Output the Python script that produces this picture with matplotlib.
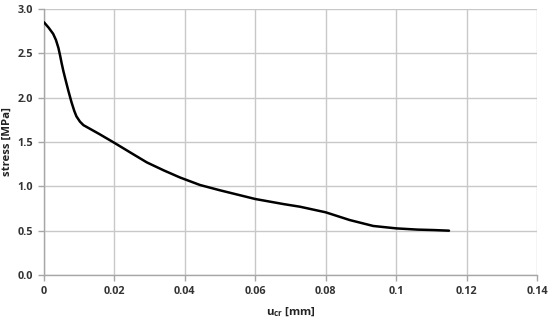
import matplotlib
matplotlib.use("Agg")
import matplotlib.pyplot as plt

u_cr = [0.0, 0.0013, 0.0026, 0.0034, 0.0041, 0.0046, 0.0050, 0.0055, 0.0060, 0.0069, 0.0078, 0.0086,
        0.0092, 0.0097, 0.0102, 0.0112, 0.0130, 0.0157, 0.0200, 0.0250, 0.0292, 0.0340,
        0.0386, 0.0443, 0.0500, 0.0600, 0.0680, 0.0727, 0.0800, 0.0868, 0.0935,
        0.1000, 0.1060, 0.1106, 0.1150]
stress = [2.85, 2.79, 2.72, 2.65, 2.56, 2.47, 2.39, 2.30, 2.22, 2.08, 1.95, 1.85,
          1.79, 1.76, 1.73, 1.69, 1.65, 1.59, 1.49, 1.37, 1.27, 1.18,
          1.10, 1.015, 0.955, 0.857, 0.80, 0.77, 0.707, 0.62, 0.553,
          0.526, 0.512, 0.507, 0.50]

xticks = [0, 0.02, 0.04, 0.06, 0.08, 0.1, 0.12, 0.14]
xticklabels = ["0", "0.02", "0.04", "0.06", "0.08", "0.1", "0.12", "0.14"]
yticks = [0.0, 0.5, 1.0, 1.5, 2.0, 2.5, 3.0]
yticklabels = ["0.0", "0.5", "1.0", "1.5", "2.0", "2.5", "3.0"]

plt.rcParams['font.family'] = ['Open Sans', 'DejaVu Sans']

fig = plt.figure(figsize=(5.5, 3.27), dpi=100)
ax = fig.add_axes([0.08, 0.159, 0.8964, 0.8135])

ax.plot(u_cr, stress, color="black", lw=1.8, solid_capstyle="round", solid_joinstyle="round", zorder=3)

ax.set_xlim(0, 0.14)
ax.set_ylim(0, 3.0)
ax.set_xticks(xticks)
ax.set_xticklabels(xticklabels)
ax.set_yticks(yticks)
ax.set_yticklabels(yticklabels)

ax.grid(True, color="#c8c8c8", lw=1.0)
ax.set_axisbelow(True)
for s in ["top", "right"]:
    ax.spines[s].set_visible(False)
for s in ["left", "bottom"]:
    ax.spines[s].set_color("#a6a6a6")
    ax.spines[s].set_linewidth(1.0)
ax.tick_params(axis="both", direction="out", length=4, width=1, color="#a6a6a6",
               labelsize=7.8, labelcolor="#333333", pad=4)
for lab in ax.get_xticklabels() + ax.get_yticklabels():
    lab.set_fontweight("bold")

ax.set_xlabel(r"u$_{\mathregular{cr}}$ [mm]", fontsize=8.2, fontweight="bold", color="#222222", labelpad=6)
ax.set_ylabel("stress [MPa]", fontsize=8.2, fontweight="bold", color="#222222", labelpad=3)

fig.savefig("out.png", dpi=100)
